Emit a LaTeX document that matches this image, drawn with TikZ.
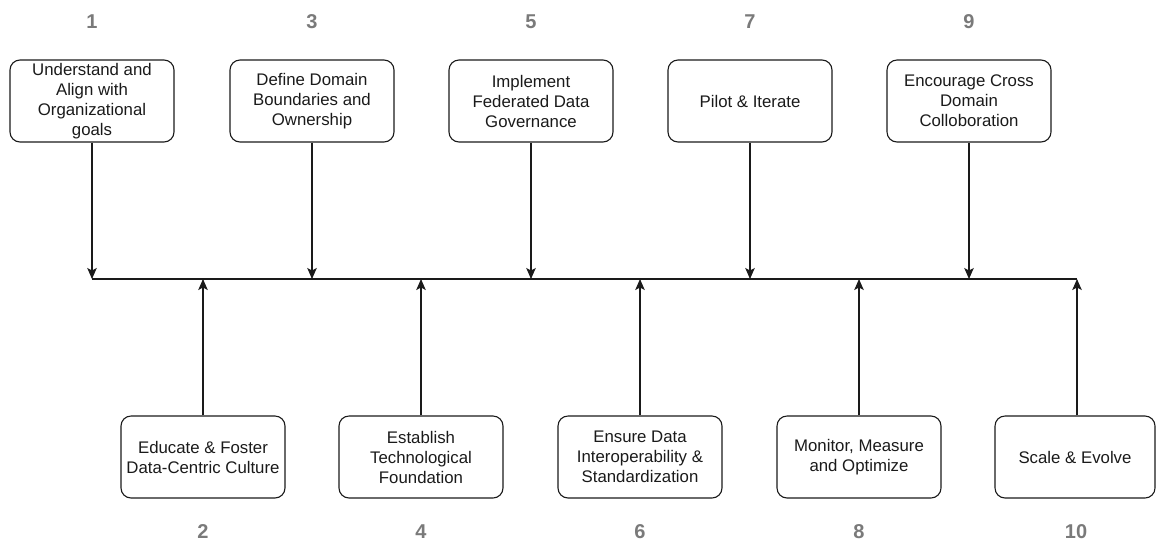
\documentclass[tikz,border=0pt]{standalone}
\usepackage{fontspec}
\setmainfont{Liberation Sans}
\usetikzlibrary{arrows.meta}
\definecolor{numgray}{HTML}{7A7A7A}
\definecolor{inkline}{HTML}{1A1A1A}
\begin{document}
\begin{tikzpicture}[x=1pt,y=-1pt,
  stepbox/.style={draw=inkline, rounded corners=10pt, line width=1.1pt,
    minimum width=164pt, minimum height=82pt, align=center, inner sep=2pt,
    font=\fontsize{16.8}{20}\selectfont, text=inkline},
  num/.style={font=\bfseries\fontsize{20}{22}\selectfont, text=numgray},
  link/.style={draw=inkline, line width=1.1pt,
    -{Stealth[length=11pt,width=9.5pt,inset=2.5pt]}},
  spine/.style={draw=inkline, line width=1.1pt}]
  \useasboundingbox (0,0) rectangle (1156,542);

  % timeline anchor points
  \foreach \i/\x in {1/92,2/202,3/312,4/421,5/531,6/641,7/750,8/859,9/969,10/1077}
    \coordinate (L\i) at (\x,279);

  % upper steps (odd)
  \node[stepbox] (s1) at (92,101) {Understand and\\Align with\\Organizational\\goals};
  \node[stepbox] (s3) at (312,101) {Define Domain\\Boundaries and\\Ownership};
  \node[stepbox] (s5) at (531,101) {Implement\\Federated Data\\Governance};
  \node[stepbox] (s7) at (750,101) {Pilot \& Iterate};
  \node[stepbox] (s9) at (969,101) {Encourage Cross\\Domain\\Colloboration};

  % lower steps (even)
  \node[stepbox] (s2) at (203,457) {Educate \& Foster\\Data-Centric Culture};
  \node[stepbox] (s4) at (421,457) {Establish\\Technological\\Foundation};
  \node[stepbox] (s6) at (640,457) {Ensure Data\\Interoperability \&\\Standardization};
  \node[stepbox] (s8) at (859,457) {Monitor, Measure\\and Optimize};
  \node[stepbox, minimum width=160pt] (s10) at (1075,457) {Scale \& Evolve};

  % step numbers
  \foreach \i/\x in {1/92,3/312,5/531,7/750,9/969}
    \node[num] (n\i) at (\x,22) {\i};
  \foreach \i/\x in {2/203,4/421,6/640,8/859,10/1076}
    \node[num] (n\i) at (\x,532) {\i};

  % timeline
  \draw[spine] (L1) -- (L10);

  % connectors
  \foreach \i in {1,3,5,7,9}
    \draw[link] (s\i.south) -- (s\i.south |- L\i);
  \foreach \i in {2,4,6,8}
    \draw[link] (s\i.north) -- (s\i.north |- L\i);
  \draw[link] (s10.north -| L10) -- (L10);
\end{tikzpicture}
\end{document}
